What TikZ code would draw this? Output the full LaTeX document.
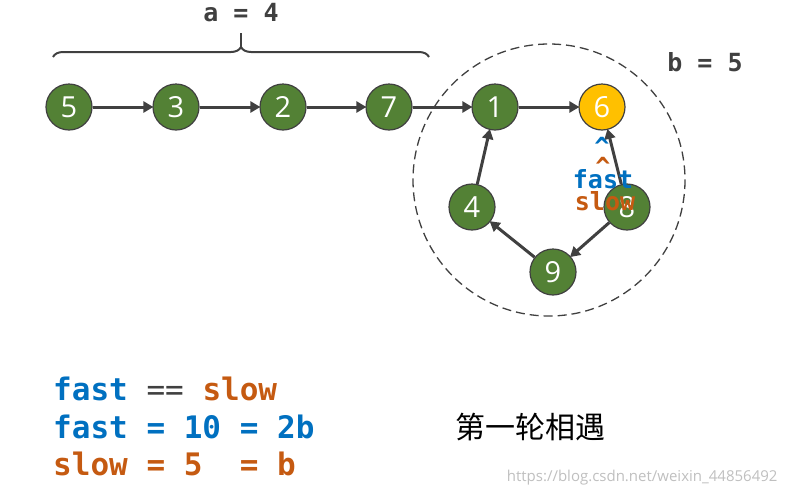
\documentclass[tikz,border=0pt]{standalone}
\usepackage{fontspec}
\setmainfont{DejaVu Sans}
\setsansfont{Open Sans}
\setmonofont{DejaVu Sans Mono}
\newfontfamily\cjk{Noto Sans CJK SC}
\usetikzlibrary{arrows.meta,decorations.pathreplacing}
\definecolor{gr}{HTML}{538135}
\definecolor{ye}{HTML}{FFC000}
\definecolor{ln}{HTML}{404040}
\definecolor{bl}{HTML}{0070C0}
\definecolor{og}{HTML}{C55A11}
\begin{document}
\begin{tikzpicture}[x=1pt,y=-1pt,
  nd/.style={circle,draw=ln,line width=1.2pt,fill=gr,minimum size=46pt,inner sep=0pt,text=white,font=\sffamily\fontsize{29}{29}\selectfont},
  ar/.style={ln,line width=3pt,-{Triangle[length=10pt,width=11pt]},shorten >=-1pt},
  code/.style={font=\ttfamily\bfseries\fontsize{31}{33}\selectfont,anchor=west,inner sep=0pt},
  sm/.style={inner sep=0pt,anchor=center,font=\ttfamily\bfseries\fontsize{25}{25}\selectfont}]
\useasboundingbox (0,0) rectangle (789,496);
\draw[dashed,ln,line width=1.3pt,dash pattern=on 9pt off 5pt] (549,180) circle (136);
\node[nd] (n5) at (69,107) {5};
\node[nd] (n3) at (176,107) {3};
\node[nd] (n2) at (283,107) {2};
\node[nd] (n7) at (389,107) {7};
\node[nd] (n1) at (495,107) {1};
\node[nd,fill=ye] (n6) at (602,107) {6};
\node[nd] (n4) at (472,207) {4};
\node[nd] (n8) at (627,207) {8};
\node[nd] (n9) at (553,272) {9};
\draw[ar] (n5)--(n3); \draw[ar] (n3)--(n2); \draw[ar] (n2)--(n7); \draw[ar] (n7)--(n1);
\draw[ar] (n1)--(n6); \draw[ar] (n8)--(n6); \draw[ar] (n8)--(n9); \draw[ar] (n9)--(n4); \draw[ar] (n4)--(n1);
\coordinate (bl) at (53,57); \coordinate (br) at (429,57);
\draw[ln,line width=2pt,decorate,decoration={brace,amplitude=10pt}] (bl)--(br);
\draw[ln,line width=2pt] (241,47)--(241,33);
\node[sm,text=ln] (a) at (241,13) {a = 4};
\node[sm,text=ln] (b) at (705,62) {b = 5};
\node[sm,text=bl] (c1) at (602,146) {\^{}};
\node[sm,text=og] (c2) at (603,166) {\^{}};
\node[sm,text=bl] (f) at (603,179) {fast};
\node[sm,text=og] (s) at (605,201) {slow};
\node[code] (l1) at (53,389) {\textcolor{bl}{fast} \textcolor{ln}{\mdseries==} \textcolor{og}{slow}};
\node[code,text=bl] (l2) at (53,427) {fast = 10 = 2b};
\node[code,text=og] (l3) at (53,464) {slow = 5\ \ = b};
\node[font=\cjk\fontsize{30}{32}\selectfont] (t) at (530,427) {第一轮相遇};
\node[font=\sffamily\fontsize{15}{16}\selectfont,text=black!25,anchor=east] (w) at (781,478) {https://blog.csdn.net/weixin\_44856492};
\end{tikzpicture}
\end{document}
